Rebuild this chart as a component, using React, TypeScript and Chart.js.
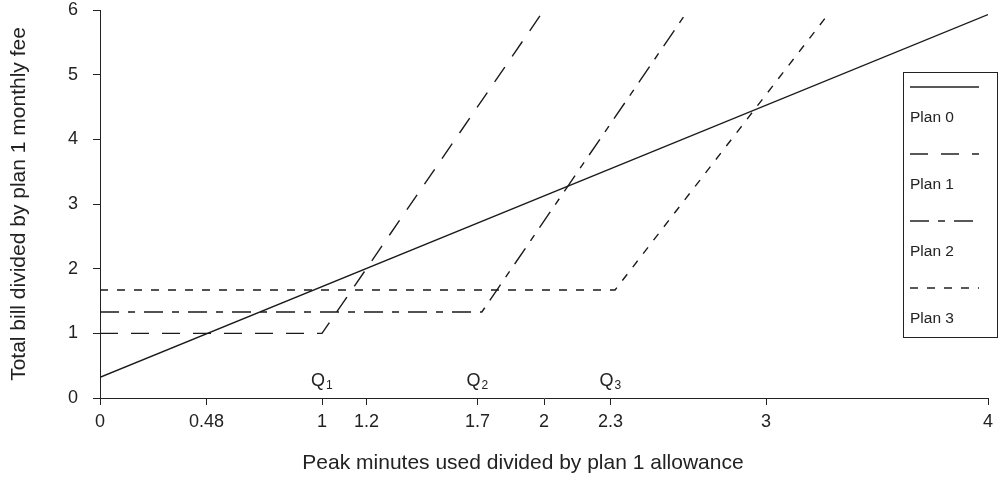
import React, { useEffect, useRef } from "react";
import { Chart, registerables } from "chart.js";

Chart.register(...registerables);

const xTickValues = [0, 0.48, 1, 1.2, 1.7, 2, 2.3, 3, 4];
const yTickValues = [0, 1, 2, 3, 4, 5, 6];

const plan0X = [0, 4];
const plan0Y = [0.32, 5.93];
const plan1X = [0, 1, 2.0];
const plan1Y = [1, 1, 6];
const plan2X = [0, 1.72, 2.65];
const plan2Y = [1.33, 1.33, 6];
const plan3X = [0, 2.32, 3.27];
const plan3Y = [1.67, 1.67, 5.89];

const planNames = ["Plan 0", "Plan 1", "Plan 2", "Plan 3"];
const planDashes: number[][] = [[], [18, 13], [19, 9, 7, 9], [8, 9]];

const qLabels = ["1", "2", "3"];
const qX = [1, 1.7, 2.3];
const qY = 0.26;

const xTitle = "Peak minutes used divided by plan 1 allowance";
const yTitle = "Total bill divided by plan 1 monthly fee";

const FONT = "'Liberation Sans', Arial, sans-serif";

function pts(xs: number[], ys: number[]) {
  return xs.map((x, i) => ({ x, y: ys[i] }));
}

const overlayPlugin = {
  id: "overlay",
  afterDraw(chart: any) {
    const ctx = chart.ctx;
    const xs = chart.scales.x;
    const ys = chart.scales.y;
    ctx.save();
    ctx.fillStyle = "#222";
    ctx.textBaseline = "middle";
    qX.forEach((qx, i) => {
      const px = xs.getPixelForValue(qx);
      const py = ys.getPixelForValue(qY);
      ctx.font = `18px ${FONT}`;
      const w = ctx.measureText("Q").width;
      ctx.textAlign = "left";
      ctx.fillText("Q", px - w / 2 - 4, py);
      ctx.font = `12px ${FONT}`;
      ctx.fillText(qLabels[i], px + w / 2 - 3, py + 5);
    });
    // x axis title
    ctx.font = `21px ${FONT}`;
    ctx.textAlign = "center";
    ctx.fillText(xTitle, 523, 463);
    // legend
    const bx = 903, by = 72, bw = 94, bh = 265;
    ctx.strokeStyle = "#222";
    ctx.lineWidth = 1;
    ctx.setLineDash([]);
    ctx.strokeRect(bx + 0.5, by + 0.5, bw, bh);
    planNames.forEach((name, i) => {
      const sy = 87 + i * 67;
      ctx.beginPath();
      ctx.setLineDash(planDashes[i]);
      ctx.lineWidth = 1.3;
      ctx.moveTo(910, sy);
      ctx.lineTo(979, sy);
      ctx.stroke();
      ctx.setLineDash([]);
      ctx.font = `15.5px ${FONT}`;
      ctx.textAlign = "left";
      ctx.fillText(name, 910, sy + 31);
    });
    ctx.restore();
  },
};

export default function App() {
  const ref = useRef<HTMLCanvasElement | null>(null);
  useEffect(() => {
    document.body.style.margin = "0";
    const canvas = ref.current;
    if (!canvas) return;
    const datasets = [
      [plan0X, plan0Y],
      [plan1X, plan1Y],
      [plan2X, plan2Y],
      [plan3X, plan3Y],
    ].map(([xs, ys], i) => ({
      label: planNames[i],
      data: pts(xs, ys),
      borderColor: "#1a1a1a",
      borderWidth: 1.4,
      borderDash: planDashes[i],
      pointRadius: 0,
      fill: false,
      tension: 0,
    }));
    const chart = new Chart(canvas, {
      type: "line",
      data: { datasets },
      options: {
        animation: false,
        responsive: false,
        devicePixelRatio: 1,
        layout: { padding: { top: 10, right: 11, left: 0, bottom: 0 } },
        plugins: { legend: { display: false }, tooltip: { enabled: false } },
        scales: {
          x: {
            type: "linear",
            min: 0,
            max: 4,
            afterBuildTicks: (axis: any) => {
              axis.ticks = xTickValues.map((v) => ({ value: v }));
            },
            afterFit: (axis: any) => {
              axis.height = 81;
              axis.paddingLeft = 0;
              axis.paddingRight = 0;
            },
            ticks: {
              color: "#222",
              font: { family: FONT, size: 18 },
              padding: 6,
              maxRotation: 0,
              autoSkip: false,
              callback: (v: any) => String(v),
            },
            grid: { drawOnChartArea: false, drawTicks: true, tickLength: 7, color: "#222" },
            border: { display: true, color: "#222", width: 1 },
            title: { display: false },
          },
          y: {
            type: "linear",
            min: 0,
            max: 6,
            afterBuildTicks: (axis: any) => {
              axis.ticks = yTickValues.map((v) => ({ value: v }));
            },
            afterFit: (axis: any) => {
              axis.width = 100;
              axis.paddingTop = 0;
              axis.paddingBottom = 0;
            },
            ticks: {
              color: "#222",
              font: { family: FONT, size: 18 },
              padding: 15,
              callback: (v: any) => String(v),
            },
            grid: { drawOnChartArea: false, drawTicks: true, tickLength: 7, color: "#222" },
            border: { display: true, color: "#222", width: 1 },
            title: {
              display: true,
              text: yTitle,
              color: "#222",
              font: { family: FONT, size: 21 },
              padding: { top: 7, bottom: 0 },
            },
          },
        },
      },
      plugins: [overlayPlugin],
    } as any);
    return () => chart.destroy();
  }, []);
  return <canvas ref={ref} width={999} height={479} style={{ display: "block" }} />;
}
